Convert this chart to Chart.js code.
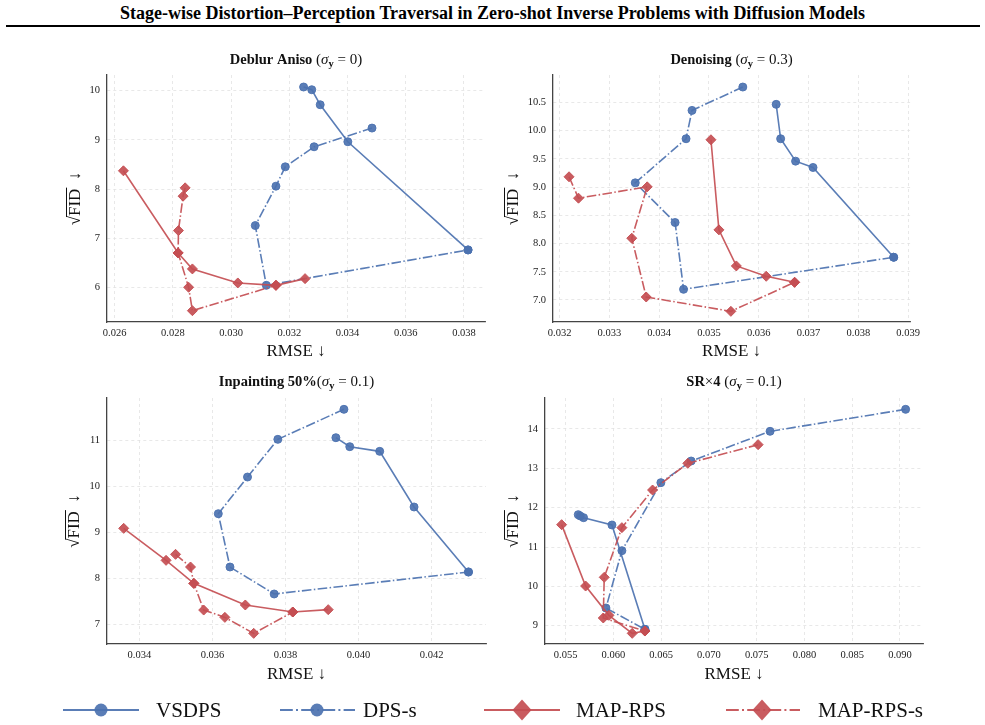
<!DOCTYPE html>
<html>
<head>
<meta charset="utf-8">
<script src="https://cdn.jsdelivr.net/npm/chart.js@4.4.1/dist/chart.umd.min.js"></script>
<style>
  body { margin: 0; background: #fff; width: 985px; height: 725px; position: relative; overflow: hidden; }
  #title { position: absolute; top: 3px; left: 0; width: 985px; text-align: center;
           font: bold 18px "Liberation Serif", serif; color: #000; }
  #rule { position: absolute; top: 25px; left: 6px; width: 974px; height: 2px; background: #000; }
  canvas { position: absolute; }
</style>
</head>
<body>
<div id="title">Stage-wise Distortion–Perception Traversal in Zero-shot Inverse Problems with Diffusion Models</div>
<div id="rule"></div>
<canvas id="deblur" width="452" height="324" style="left:40px;top:38px"></canvas>
<canvas id="denoise" width="433" height="324" style="left:492px;top:38px"></canvas>
<canvas id="inpaint" width="452" height="323" style="left:40px;top:362px"></canvas>
<canvas id="sr" width="440" height="323" style="left:492px;top:362px"></canvas>
<canvas id="legend" width="985" height="37" style="left:0;top:688px"></canvas>
<script>
// ---------------- data (RMSE, sqrt FID) ----------------
const methods = ['VSDPS', 'DPS-s', 'MAP-RPS', 'MAP-RPS-s'];

// Deblur Aniso (sigma_y = 0)
const deblurVSDPS_rmse = [0.03249, 0.03277, 0.03306, 0.03401, 0.03814];
const deblurVSDPS_fid  = [10.075, 10.02, 9.715, 8.963, 6.766];
const deblurDPSs_rmse  = [0.03484, 0.03285, 0.03186, 0.03154, 0.03083, 0.03121, 0.03814];
const deblurDPSs_fid   = [9.241, 8.861, 8.454, 8.061, 7.261, 6.047, 6.766];
const deblurMAP_rmse   = [0.02630, 0.02818, 0.02867, 0.03023, 0.03154, 0.03254];
const deblurMAP_fid    = [8.373, 6.705, 6.380, 6.095, 6.047, 6.183];
const deblurMAPs_rmse  = [0.02842, 0.02835, 0.02819, 0.02818, 0.02854, 0.02867, 0.03154];
const deblurMAPs_fid   = [8.027, 7.858, 7.159, 6.705, 6.007, 5.532, 6.047];

// Denoising (sigma_y = 0.3)
const denoiseVSDPS_rmse = [0.03635, 0.03644, 0.03674, 0.03709, 0.03871];
const denoiseVSDPS_fid  = [10.465, 9.856, 9.459, 9.347, 7.757];
const denoiseDPSs_rmse  = [0.03568, 0.03466, 0.03454, 0.03352, 0.03432, 0.03449, 0.03871];
const denoiseDPSs_fid   = [10.772, 10.358, 9.856, 9.075, 8.372, 7.189, 7.757];
const denoiseMAP_rmse   = [0.03504, 0.03520, 0.03555, 0.03615, 0.03672];
const denoiseMAP_fid    = [9.838, 8.242, 7.603, 7.420, 7.313];
const denoiseMAPs_rmse  = [0.03219, 0.03238, 0.03376, 0.03345, 0.03374, 0.03544, 0.03672];
const denoiseMAPs_fid   = [9.182, 8.803, 9.004, 8.094, 7.053, 6.799, 7.313];

// Inpainting 50% (sigma_y = 0.1)
const inpaintVSDPS_rmse = [0.03938, 0.03976, 0.04058, 0.04152, 0.04301];
const inpaintVSDPS_fid  = [11.065, 10.869, 10.767, 9.553, 8.135];
const inpaintDPSs_rmse  = [0.03960, 0.03779, 0.03696, 0.03616, 0.03648, 0.03769, 0.04301];
const inpaintDPSs_fid   = [11.684, 11.029, 10.207, 9.407, 8.244, 7.655, 8.135];
const inpaintMAP_rmse   = [0.03357, 0.03473, 0.03549, 0.03690, 0.03820, 0.03917];
const inpaintMAP_fid    = [9.087, 8.389, 7.887, 7.415, 7.262, 7.313];
const inpaintMAPs_rmse  = [0.03499, 0.03540, 0.03549, 0.03576, 0.03634, 0.03713, 0.03820];
const inpaintMAPs_fid   = [8.520, 8.244, 7.887, 7.305, 7.145, 6.796, 7.262];

// SR x4 (sigma_y = 0.1)
const srVSDPS_rmse = [0.05632, 0.05653, 0.05688, 0.05985, 0.06330];
const srVSDPS_fid  = [11.822, 11.788, 11.746, 11.559, 8.907];
const srDPSs_rmse  = [0.09059, 0.07640, 0.06814, 0.06497, 0.06089, 0.05922, 0.06330];
const srDPSs_fid   = [14.500, 13.941, 13.186, 12.636, 10.907, 9.449, 8.907];
const srMAP_rmse   = [0.05458, 0.05709, 0.05953, 0.06197, 0.06330];
const srMAP_fid    = [11.568, 10.008, 9.263, 8.805, 8.864];
const srMAPs_rmse  = [0.07515, 0.06779, 0.06410, 0.06089, 0.05904, 0.05894, 0.06330];
const srMAPs_fid   = [13.602, 13.127, 12.449, 11.492, 10.229, 9.195, 8.864];

// tick values
const deblurXTicks = [0.026, 0.028, 0.030, 0.032, 0.034, 0.036, 0.038];
const deblurYTicks = [6, 7, 8, 9, 10];
const denoiseXTicks = [0.032, 0.033, 0.034, 0.035, 0.036, 0.037, 0.038, 0.039];
const denoiseYTicks = [7.0, 7.5, 8.0, 8.5, 9.0, 9.5, 10.0, 10.5];
const inpaintXTicks = [0.034, 0.036, 0.038, 0.040, 0.042];
const inpaintYTicks = [7, 8, 9, 10, 11];
const srXTicks = [0.055, 0.060, 0.065, 0.070, 0.075, 0.080, 0.085, 0.090];
const srYTicks = [9, 10, 11, 12, 13, 14];

// ---------------- styling ----------------
const SERIF = '"Liberation Serif", "DejaVu Serif", serif';
const BLUE = 'rgba(76,114,176,0.92)';
const RED = 'rgba(196,78,82,0.92)';
const DASHDOT = [9.6, 2.4, 1.5, 2.4];

function series(label, xs, ys, color, dashed, diamond, order) {
  return {
    label: label,
    data: xs.map((x, i) => ({ x: x, y: ys[i] })),
    showLine: true,
    borderColor: color,
    backgroundColor: color,
    borderWidth: 1.6,
    borderDash: dashed ? DASHDOT : [],
    pointStyle: diamond ? 'rectRot' : 'circle',
    pointRadius: diamond ? 5 : 4,
    pointBorderWidth: 1,
    pointBorderColor: color,
    pointBackgroundColor: color,
    order: order
  };
}

// subplot title + sqrt(FID) label
const panelText = {
  id: 'panelText',
  afterDraw(chart, args, o) {
    const ctx = chart.ctx, a = chart.chartArea;
    ctx.save();
    ctx.fillStyle = '#111';
    ctx.textBaseline = 'alphabetic';
    let w = 0;
    o.title.forEach(s => { ctx.font = s.font; s.w = ctx.measureText(s.text).width; w += s.w; });
    let x = (a.left + a.right) / 2 - w / 2;
    o.title.forEach(s => { ctx.font = s.font; ctx.fillText(s.text, x, o.titleY + (s.dy || 0)); x += s.w; });

    // rotated y label
    ctx.translate(o.labelX, (a.top + a.bottom) / 2);
    ctx.rotate(-Math.PI / 2);
    ctx.font = '17px ' + SERIF;
    const wr = ctx.measureText('√').width;
    const wf = ctx.measureText('FID').width;
    const wa = ctx.measureText('  ↓').width;
    const total = wr + wf + wa;
    let sx = -total / 2;
    const base = 6;
    ctx.fillText('√', sx, base);
    ctx.fillText('FID', sx + wr, base);
    ctx.strokeStyle = '#111';
    ctx.lineWidth = 1;
    ctx.beginPath();
    ctx.moveTo(sx + wr - 1, base - 13.5);
    ctx.lineTo(sx + wr + wf + 1, base - 13.5);
    ctx.stroke();
    ctx.fillText('  ↓', sx + wr + wf, base);
    ctx.restore();
  }
};

function panel(id, p) {
  const axisFont = { family: SERIF, size: 10.5 };
  new Chart(document.getElementById(id), {
    type: 'scatter',
    data: {
      datasets: [
        series(methods[0], p.vx, p.vy, BLUE, false, false, 4),
        series(methods[1], p.dx, p.dy, BLUE, true, false, 3),
        series(methods[2], p.mx, p.my, RED, false, true, 2),
        series(methods[3], p.sx, p.sy, RED, true, true, 1)
      ]
    },
    options: {
      responsive: false,
      animation: false,
      events: [],
      layout: { padding: { top: p.padTop, right: p.padRight, left: 0, bottom: 0 } },
      plugins: {
        legend: { display: false },
        tooltip: { enabled: false },
        panelText: { title: p.title, titleY: p.titleY, labelX: p.labelX }
      },
      scales: {
        x: {
          type: 'linear', min: p.xMin, max: p.xMax,
          afterBuildTicks: s => { s.ticks = p.xTicks.map(v => ({ value: v })); },
          afterFit: s => { s.height = p.xH; },
          ticks: { font: axisFont, color: '#222', padding: 5, maxRotation: 0, autoSkip: false,
                   callback: v => v.toFixed(3) },
          grid: { color: '#e2e2e2', lineWidth: 0.8, drawTicks: false },
          border: { display: true, color: '#444', width: 1.3, dash: [3, 3] },
          title: { display: true, text: 'RMSE ↓', color: '#111', padding: 0,
                   font: { family: SERIF, size: 17 } }
        },
        y: {
          type: 'linear', min: p.yMin, max: p.yMax,
          afterBuildTicks: s => { s.ticks = p.yTicks.map(v => ({ value: v })); },
          afterFit: s => { s.width = p.yW; },
          ticks: { font: axisFont, color: '#222', padding: 7, autoSkip: false,
                   callback: v => v.toFixed(p.yDec) },
          grid: { color: '#e2e2e2', lineWidth: 0.8, drawTicks: false },
          border: { display: true, color: '#444', width: 1.3, dash: [3, 3] }
        }
      }
    },
    plugins: [panelText]
  });
}

const B14 = 'bold 14.5px ' + SERIF, R14 = '15px ' + SERIF, I14 = 'italic 15px ' + SERIF, SUB = 'bold 10.5px ' + SERIF;

panel('deblur', {
  vx: deblurVSDPS_rmse, vy: deblurVSDPS_fid, dx: deblurDPSs_rmse, dy: deblurDPSs_fid,
  mx: deblurMAP_rmse, my: deblurMAP_fid, sx: deblurMAPs_rmse, sy: deblurMAPs_fid,
  xMin: 0.025736, xMax: 0.038722, yMin: 5.302, yMax: 10.319,
  xTicks: deblurXTicks, yTicks: deblurYTicks, yDec: 0,
  padTop: 37, padRight: 7, yW: 67, xH: 40, titleY: 26, labelX: 34,
  title: [{ text: 'Deblur Aniso', font: B14 }, { text: ' (', font: R14 }, { text: 'σ', font: I14 },
          { text: 'y', font: SUB, dy: 3 }, { text: ' = 0)', font: R14 }]
});

panel('denoise', {
  vx: denoiseVSDPS_rmse, vy: denoiseVSDPS_fid, dx: denoiseDPSs_rmse, dy: denoiseDPSs_fid,
  mx: denoiseMAP_rmse, my: denoiseMAP_fid, sx: denoiseMAPs_rmse, sy: denoiseMAPs_fid,
  xMin: 0.031868, xMax: 0.03904, yMin: 6.610, yMax: 10.985,
  xTicks: denoiseXTicks, yTicks: denoiseYTicks, yDec: 1,
  padTop: 37, padRight: 11, yW: 61, xH: 40, titleY: 26, labelX: 20,
  title: [{ text: 'Denoising', font: B14 }, { text: ' (', font: R14 }, { text: 'σ', font: I14 },
          { text: 'y', font: SUB, dy: 3 }, { text: ' = 0.3)', font: R14 }]
});

panel('inpaint', {
  vx: inpaintVSDPS_rmse, vy: inpaintVSDPS_fid, dx: inpaintDPSs_rmse, dy: inpaintDPSs_fid,
  mx: inpaintMAP_rmse, my: inpaintMAP_fid, sx: inpaintMAPs_rmse, sy: inpaintMAPs_fid,
  xMin: 0.033113, xMax: 0.04349, yMin: 6.564, yMax: 11.931,
  xTicks: inpaintXTicks, yTicks: inpaintYTicks, yDec: 0,
  padTop: 36, padRight: 6, yW: 67, xH: 41, titleY: 24, labelX: 33,
  title: [{ text: 'Inpainting 50%', font: B14 }, { text: '(', font: R14 }, { text: 'σ', font: I14 },
          { text: 'y', font: SUB, dy: 3 }, { text: ' = 0.1)', font: R14 }]
});

panel('sr', {
  vx: srVSDPS_rmse, vy: srVSDPS_fid, dx: srDPSs_rmse, dy: srDPSs_fid,
  mx: srMAP_rmse, my: srMAP_fid, sx: srMAPs_rmse, sy: srMAPs_fid,
  xMin: 0.05284, xMax: 0.09241, yMin: 8.534, yMax: 14.788,
  xTicks: srXTicks, yTicks: srYTicks, yDec: 0,
  padTop: 36, padRight: 9, yW: 53, xH: 41, titleY: 24, labelX: 20,
  title: [{ text: 'SR', font: B14 }, { text: '×', font: R14 }, { text: '4', font: B14 },
          { text: ' (', font: R14 }, { text: 'σ', font: I14 },
          { text: 'y', font: SUB, dy: 3 }, { text: ' = 0.1)', font: R14 }]
});

// ---------------- shared legend ----------------
const lg = document.getElementById('legend').getContext('2d');
function legendItem(x0, x1, cx, tx, color, dashed, diamond, label) {
  const y = 22;
  lg.save();
  lg.strokeStyle = color;
  lg.lineWidth = 2;
  lg.setLineDash(dashed ? [12.8, 3.2, 2, 3.2] : []);
  lg.beginPath(); lg.moveTo(x0, y); lg.lineTo(x1, y); lg.stroke();
  lg.setLineDash([]);
  lg.fillStyle = color;
  lg.beginPath();
  if (diamond) {
    lg.moveTo(cx, y - 10.5); lg.lineTo(cx + 9.5, y); lg.lineTo(cx, y + 10.5); lg.lineTo(cx - 9.5, y); lg.closePath();
  } else {
    lg.arc(cx, y, 6.5, 0, Math.PI * 2);
  }
  lg.fill();
  lg.fillStyle = '#111';
  lg.font = '21px ' + SERIF;
  lg.textBaseline = 'middle';
  lg.fillText(label, tx, y + 1);
  lg.restore();
}
legendItem(63, 139, 101, 156, BLUE, false, false, methods[0]);
legendItem(280, 355, 317, 363, BLUE, true, false, methods[1]);
legendItem(484, 560, 522, 576, RED, false, true, methods[2]);
legendItem(726, 800, 762, 818, RED, true, true, methods[3]);
</script>
</body>
</html>
